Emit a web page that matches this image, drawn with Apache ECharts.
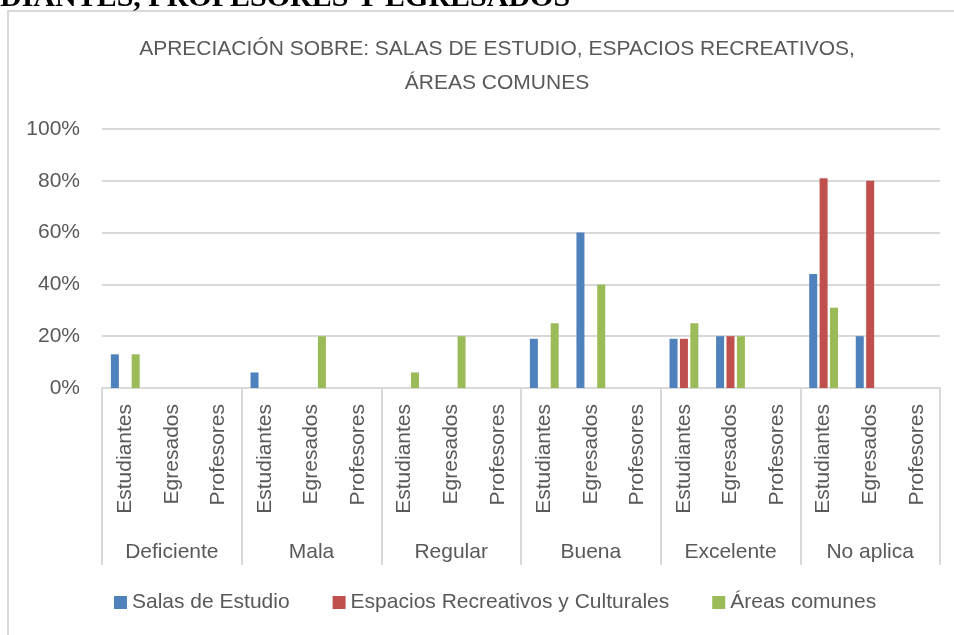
<!DOCTYPE html>
<html>
<head>
<meta charset="utf-8">
<script src="https://cdn.jsdelivr.net/npm/echarts@6/dist/echarts.min.js"></script>
<style>
  html, body { margin: 0; padding: 0; background: #fff; }
  #chart { width: 954px; height: 635px; }
</style>
</head>
<body>
<div id="chart"></div>
<script>
// categorias: grupo (apreciacion) x encuestado
var groups = ['Deficiente', 'Mala', 'Regular', 'Buena', 'Excelente', 'No aplica']
var respondents = ['Estudiantes', 'Egresados', 'Profesores']
var seriesNames = ['Salas de Estudio', 'Espacios Recreativos y Culturales', 'Áreas comunes']

// valores en %, en orden: Deficiente(Est, Egr, Prof), Mala(...), ...
var salasEstudio = [13, 0, 0, 6, 0, 0, 0, 0, 0, 19, 60, 0, 19, 20, 0, 44, 20, 0]
var espaciosRecreativos = [0, 0, 0, 0, 0, 0, 0, 0, 0, 0, 0, 0, 19, 20, 0, 81, 80, 0]
var areasComunes = [13, 0, 0, 0, 20, 0, 6, 20, 0, 25, 40, 0, 25, 20, 0, 31, 0, 0]

var yTicks = [0, 20, 40, 60, 80, 100]

var categories = []
groups.forEach(function () {
  respondents.forEach(function (r) { categories.push(r) })
})

var font = 'Liberation Sans, Arial, sans-serif'
var textColor = '#595959'
var lineColor = '#d9d9d9'
var colors = ['#4f81bd', '#c0504d', '#9bbb59']

var chart = echarts.init(document.getElementById('chart'))

function bar(name, data) {
  return {
    name: name,
    type: 'bar',
    data: data,
    barWidth: 8,
    barGap: '30%',
    animation: false
  }
}

chart.setOption({
  color: colors,
  textStyle: { fontFamily: font },
  title: {
    text: 'APRECIACIÓN SOBRE: SALAS DE ESTUDIO, ESPACIOS RECREATIVOS,\nÁREAS COMUNES',
    left: 492,
    textAlign: 'center',
    top: 27,
    textStyle: {
      fontFamily: font,
      fontSize: 21,
      fontWeight: 'normal',
      lineHeight: 34,
      color: textColor
    }
  },
  graphic: [
    {
      type: 'rect',
      shape: { x: 8, y: 11, width: 980, height: 660 },
      style: { fill: 'none', stroke: lineColor, lineWidth: 2 },
      silent: true
    },
    {
      type: 'text',
      x: 0,
      y: -2,
      style: {
        text: 'DIANTES, PROFESORES Y EGRESADOS',
        font: 'bold 30px "Liberation Serif", "Times New Roman", serif',
        fill: '#000',
        verticalAlign: 'middle'
      },
      silent: true
    }
  ],
  legend: {
    data: seriesNames,
    left: 109,
    top: 587,
    itemWidth: 13,
    itemHeight: 13,
    itemGap: 43,
    icon: 'rect',
    textStyle: { fontFamily: font, fontSize: 21, color: textColor }
  },
  grid: { left: 102, right: 14, top: 129, bottom: 247 },
  xAxis: [
    {
      type: 'category',
      data: categories,
      axisLine: { lineStyle: { color: lineColor, width: 2 } },
      axisTick: { show: false },
      axisLabel: {
        interval: 0,
        rotate: 90,
        margin: 16,
        fontSize: 21,
        color: textColor
      }
    },
    {
      type: 'category',
      data: groups,
      position: 'bottom',
      axisLine: { show: false },
      axisTick: { show: true, length: 177, lineStyle: { color: lineColor, width: 2 } },
      axisLabel: { interval: 0, margin: 154, fontSize: 21, color: textColor }
    }
  ],
  yAxis: {
    type: 'value',
    min: yTicks[0],
    max: yTicks[yTicks.length - 1],
    interval: 20,
    axisLine: { show: false },
    axisTick: { show: false },
    axisLabel: { formatter: '{value}%', margin: 22, fontSize: 21, color: textColor },
    splitLine: { lineStyle: { color: lineColor, width: 2 } }
  },
  series: [
    bar(seriesNames[0], salasEstudio),
    bar(seriesNames[1], espaciosRecreativos),
    bar(seriesNames[2], areasComunes)
  ]
})
</script>
</body>
</html>
